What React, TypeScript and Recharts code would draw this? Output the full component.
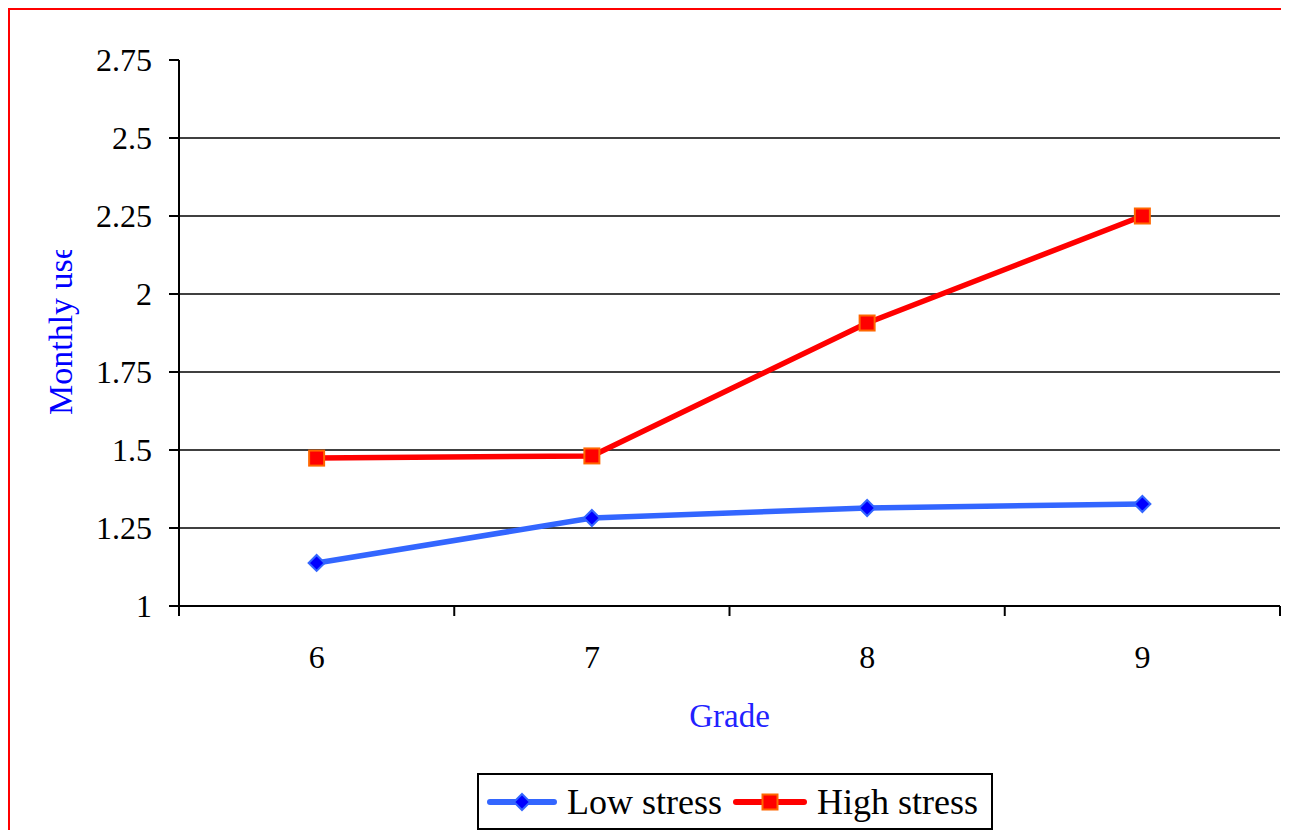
import { LineChart, Line, XAxis, YAxis, ReferenceLine, Legend } from "recharts";

// values
const grades = ["6", "7", "8", "9"];
const lowStress = [1.138, 1.282, 1.314, 1.327];
const highStress = [1.474, 1.481, 1.907, 2.25];
const yTicks = [1, 1.25, 1.5, 1.75, 2, 2.25, 2.5, 2.75];
const gridValues = [1.25, 1.5, 1.75, 2, 2.25, 2.5];
const seriesOrder = ["low", "high"];

const data = grades.map((g, i) => ({ grade: g, low: lowStress[i], high: highStress[i] }));

const serif = "'Liberation Serif', 'Times New Roman', serif";
const X_TICK_SIZE = 10;
const X_TICK_MARGIN = 29;

function Diamond(props: any) {
  const { cx, cy, index } = props;
  if (cx == null || cy == null) return null;
  const r = 8;
  return (
    <polygon
      key={"d" + index}
      points={`${cx},${cy - r} ${cx + r},${cy} ${cx},${cy + r} ${cx - r},${cy}`}
      fill="#0000FF"
      stroke="#3366FF"
      strokeWidth={2}
    />
  );
}

function Square(props: any) {
  const { cx, cy, index } = props;
  if (cx == null || cy == null) return null;
  return (
    <rect key={"s" + index} x={cx - 7.5} y={cy - 7.5} width={15} height={15} fill="#FF0000" stroke="#FF6600" strokeWidth={2} />
  );
}

// grade label in the middle of its band, tick marks on the band borders
function GradeTick(props: any) {
  const { x, y, payload, index, visibleTicksCount } = props;
  const half = payload.offset || 0;
  const axisY = y - X_TICK_SIZE - X_TICK_MARGIN;
  const isLast = index === visibleTicksCount - 1;
  return (
    <g>
      <line x1={x - half} y1={axisY} x2={x - half} y2={axisY + X_TICK_SIZE} stroke="#000" strokeWidth={2} />
      {isLast && <line x1={x + half} y1={axisY} x2={x + half} y2={axisY + X_TICK_SIZE} stroke="#000" strokeWidth={2} />}
      <text x={x} y={y} dy="0.71em" textAnchor="middle" fill="#000" fontSize={32} fontFamily={serif}>
        {payload.value}
      </text>
    </g>
  );
}

function YTitle({ viewBox }: any) {
  const x = viewBox.x + 62;
  const y = viewBox.y + viewBox.height / 2 + 82;
  return (
    <g>
      <defs>
        <clipPath id="ytitle-clip">
          <rect x={viewBox.x} y={viewBox.y + 190} width={viewBox.width} height={viewBox.height} />
        </clipPath>
      </defs>
      <g clipPath="url(#ytitle-clip)">
        <text x={x} y={y} transform={`rotate(-90 ${x} ${y})`} fill="#0000FF" fontSize={34} fontFamily={serif}>
          Monthly use
        </text>
      </g>
    </g>
  );
}

function XTitle({ viewBox }: any) {
  return (
    <text x={viewBox.x + viewBox.width / 2} y={viewBox.y + 121} textAnchor="middle" fill="#2222FF" fontSize={33} fontFamily={serif}>
      Grade
    </text>
  );
}

function LegendBox({ payload }: any) {
  const items = [...(payload || [])].sort(
    (a: any, b: any) => seriesOrder.indexOf(a.dataKey) - seriesOrder.indexOf(b.dataKey)
  );
  return (
    <div
      style={{
        display: "flex",
        alignItems: "center",
        width: 516,
        height: 57,
        boxSizing: "border-box",
        border: "2px solid #000",
        paddingLeft: 6,
        background: "#fff",
        fontFamily: serif,
        fontSize: 36,
        color: "#000",
      }}
    >
      {items.map((entry: any, i: number) => {
        const high = entry.dataKey === "high";
        const w = high ? 78 : 74;
        return (
          <div key={entry.dataKey} style={{ display: "flex", alignItems: "center", marginRight: i === 0 ? 9 : 0 }}>
            <svg width={w} height={22} style={{ marginRight: 8 }}>
              <line x1={5} y1={11} x2={w - 5} y2={11} stroke={entry.color} strokeWidth={6} strokeLinecap="round" />
              {high ? <Square cx={w / 2} cy={11} index={i} /> : <Diamond cx={w / 2} cy={11} index={i} />}
            </svg>
            <span style={{ lineHeight: "40px" }}>{entry.value}</span>
          </div>
        );
      })}
    </div>
  );
}

export default function App() {
  return (
    <div
      style={{
        width: 1281,
        height: 822,
        boxSizing: "border-box",
        borderTop: "2px solid #FF0000",
        borderLeft: "2px solid #FF0000",
        overflow: "hidden",
        fontFamily: serif,
        background: "#fff",
      }}
    >
      <LineChart width={1279} height={820} data={data} margin={{ top: 50, right: 9, left: 0, bottom: 0 }}>
        <XAxis
          dataKey="grade"
          scale="band"
          interval={0}
          height={167}
          tickLine={false}
          tickSize={X_TICK_SIZE}
          tickMargin={X_TICK_MARGIN}
          axisLine={{ stroke: "#000", strokeWidth: 2 }}
          tick={<GradeTick />}
          label={<XTitle />}
        />
        <YAxis
          type="number"
          domain={[1, 2.75]}
          ticks={yTicks}
          interval={0}
          width={169}
          tickSize={10}
          tickMargin={17}
          axisLine={{ stroke: "#000", strokeWidth: 2 }}
          tickLine={{ stroke: "#000", strokeWidth: 2 }}
          tick={{ fill: "#000", fontSize: 32, fontFamily: serif }}
          label={<YTitle />}
        />
        {gridValues.map((v) => (
          <ReferenceLine key={v} y={v} stroke="#000" strokeWidth={1.5} />
        ))}
        <Line
          type="linear"
          dataKey="low"
          name="Low stress"
          stroke="#3366FF"
          strokeWidth={5.5}
          dot={Diamond}
          activeDot={false}
          isAnimationActive={false}
        />
        <Line
          type="linear"
          dataKey="high"
          name="High stress"
          stroke="#FF0000"
          strokeWidth={5.5}
          dot={Square}
          activeDot={false}
          isAnimationActive={false}
        />
        <Legend verticalAlign="bottom" content={<LegendBox />} wrapperStyle={{ left: 467, width: 516 }} />
      </LineChart>
    </div>
  );
}
